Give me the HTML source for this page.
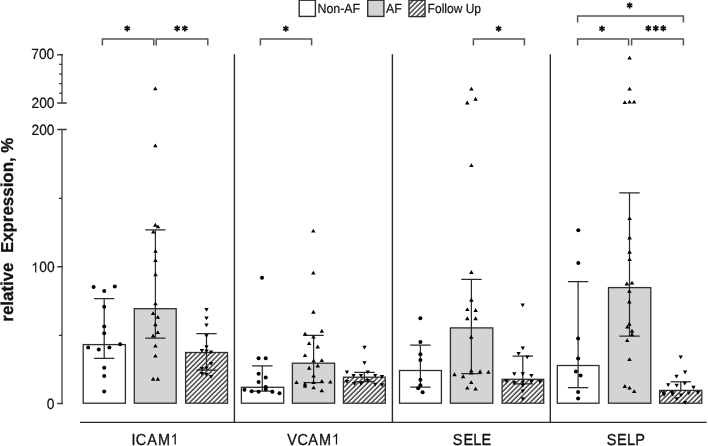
<!DOCTYPE html>
<html><head><meta charset="utf-8"><style>
html,body{margin:0;padding:0;background:#fff;}
body{width:708px;height:446px;overflow:hidden;}
svg{display:block;filter:grayscale(1);}
text{font-family:"Liberation Sans",sans-serif;text-rendering:geometricPrecision;}
</style></head><body>
<svg width="708" height="446" viewBox="0 0 708 446">
<defs>
<pattern id="hatch" patternUnits="userSpaceOnUse" width="3.39" height="3.39" patternTransform="rotate(45)"><rect width="3.39" height="3.39" fill="#fff"/><rect x="1.26" y="0" width="1.15" height="3.39" fill="#111"/></pattern>
<pattern id="hatchL" patternUnits="userSpaceOnUse" width="3.39" height="3.39" patternTransform="rotate(45)"><rect width="3.39" height="3.39" fill="#fff"/><rect x="0.41" y="0" width="1.15" height="3.39" fill="#111"/></pattern>
<symbol id="up" overflow="visible"><path d="M0,-2.45 L2.25,1.4 L-2.25,1.4 Z"/></symbol>
<symbol id="dn" overflow="visible"><path d="M0,2.35 L2.15,-1.4 L-2.15,-1.4 Z"/></symbol>
</defs>
<rect width="708" height="446" fill="#fff"/>
<g stroke="#2e2e2e" stroke-width="1.4">
<rect x="299.2" y="0.2" width="16.2" height="16.2" fill="#fff"/>
<rect x="367.7" y="0.2" width="16.2" height="16.2" fill="#d4d4d4"/>
<rect x="409.0" y="0.2" width="16.0" height="16.4" fill="url(#hatchL)"/>
</g>
<g font-size="12.4" fill="#111" stroke="#111" stroke-width="0.2">
<text transform="translate(317.5,13.2) scale(1,1.07)">Non-AF</text>
<text transform="translate(385.9,13.2) scale(1,1.07)">AF</text>
<text transform="translate(427.6,13.2) scale(0.97,1.07)">Follow Up</text>
</g>
<g stroke="#838383" stroke-width="2" fill="none">
<path d="M62,129.5 V403.6"/>
<path d="M62,54.7 V102.9"/>
</g>
<g stroke="#3a3a3a" stroke-width="1.5" fill="none">
<path d="M57.2,129.5 H66.8 M57.2,102.9 H66.8"/>
<path d="M57.2,403.6 H63 M57.2,266.7 H63 M57.2,54.7 H63"/>
</g>
<g stroke="#2a2a2a" stroke-width="1.3" fill="none">
<path d="M59.3,93.26 H62"/>
<path d="M59.3,83.62 H62"/>
<path d="M59.3,73.98 H62"/>
<path d="M59.3,64.34 H62"/>
<path d="M59,198.45 H62 M59,335.45 H62"/>
</g>
<g font-size="13.8" fill="#111" text-anchor="end" stroke="#111" stroke-width="0.2">
<text transform="translate(54.3,59) scale(1,1.08)">700</text>
<text transform="translate(54.5,107.9) scale(1,1.08)">200</text>
<text transform="translate(54.5,134.9) scale(1,1.08)">200</text>
<text transform="translate(0,272.4) scale(1,1.08)" x="39.21 47.11" y="0" text-anchor="start">00</text>
<path transform="translate(31.17,272.4) scale(0.006738,-0.007277)" d="M763,0 L583,0 L583,1100 Q518,1040 412,980 Q306,920 222,890 L222,1060 Q373,1130 486,1228 Q599,1326 646,1409 L763,1409 Z"/>
<text transform="translate(54.4,409.2) scale(1,1.08)">0</text>
</g>
<text transform="translate(12.55,321.65) rotate(-90) scale(1,1.02)" font-size="16.9" font-weight="bold" fill="#111" stroke="#111" stroke-width="0.3">relative&#160; Expression, %</text>
<rect x="83.2" y="344.6" width="42.2" height="58.6" fill="#fff" stroke="#2e2e2e" stroke-width="1.3"/>
<rect x="134.3" y="308.7" width="41.9" height="94.5" fill="#d4d4d4" stroke="#2e2e2e" stroke-width="1.3"/>
<rect x="185.6" y="352.5" width="41.9" height="50.7" fill="url(#hatch)" stroke="#2e2e2e" stroke-width="1.3"/>
<rect x="241.4" y="387.3" width="42.3" height="15.9" fill="#fff" stroke="#2e2e2e" stroke-width="1.3"/>
<rect x="292.4" y="363.2" width="42.2" height="40" fill="#d4d4d4" stroke="#2e2e2e" stroke-width="1.3"/>
<rect x="343.4" y="377.2" width="41.9" height="26" fill="url(#hatch)" stroke="#2e2e2e" stroke-width="1.3"/>
<rect x="399.5" y="370.5" width="41.9" height="32.7" fill="#fff" stroke="#2e2e2e" stroke-width="1.3"/>
<rect x="450.4" y="327.9" width="42.4" height="75.3" fill="#d4d4d4" stroke="#2e2e2e" stroke-width="1.3"/>
<rect x="502.1" y="379.3" width="41.6" height="23.9" fill="url(#hatch)" stroke="#2e2e2e" stroke-width="1.3"/>
<rect x="557.3" y="365.5" width="41.7" height="37.7" fill="#fff" stroke="#2e2e2e" stroke-width="1.3"/>
<rect x="608.5" y="287.6" width="42.3" height="115.6" fill="#d4d4d4" stroke="#2e2e2e" stroke-width="1.3"/>
<rect x="659.6" y="390.4" width="42.2" height="12.8" fill="url(#hatch)" stroke="#2e2e2e" stroke-width="1.3"/>
<g stroke="#2a2a2a" stroke-width="1.25" fill="none">
<path d="M104.2,298.7 V358.4"/>
<path d="M94,298.7 H114.4 M94,358.4 H114.4"/>
<path d="M155.4,229.9 V338"/>
<path d="M145.2,229.9 H165.6 M145.2,338 H165.6"/>
<path d="M206.5,333.6 V370.1"/>
<path d="M196.3,333.6 H216.7 M196.3,370.1 H216.7"/>
<path d="M262.3,365.9 V391"/>
<path d="M252.1,365.9 H272.5 M252.1,391 H272.5"/>
<path d="M313.6,335.4 V382.5"/>
<path d="M303.4,335.4 H323.8 M303.4,382.5 H323.8"/>
<path d="M364.4,372.3 V381.5"/>
<path d="M354.2,372.3 H374.6 M354.2,381.5 H374.6"/>
<path d="M420.4,345.2 V387.2"/>
<path d="M410.2,345.2 H430.6 M410.2,387.2 H430.6"/>
<path d="M471.4,279.3 V373.6"/>
<path d="M461.2,279.3 H481.6 M461.2,373.6 H481.6"/>
<path d="M522.8,356 V383.8"/>
<path d="M512.6,356 H533 M512.6,383.8 H533"/>
<path d="M578.1,281.7 V387.7"/>
<path d="M567.9,281.7 H588.3 M567.9,387.7 H588.3"/>
<path d="M629.5,192.9 V336"/>
<path d="M619.3,192.9 H639.7 M619.3,336 H639.7"/>
<path d="M680.8,381.8 V390.4"/>
<path d="M670.6,381.8 H691"/>
</g>
<g fill="#000">
<circle cx="93.6" cy="286.9" r="2"/>
<circle cx="104.2" cy="290.9" r="2"/>
<circle cx="114.8" cy="286.6" r="2"/>
<circle cx="104.2" cy="306.7" r="2"/>
<circle cx="104.2" cy="326.4" r="2"/>
<circle cx="104.2" cy="333.2" r="2"/>
<circle cx="88.1" cy="347.6" r="2"/>
<circle cx="98.8" cy="349.4" r="2"/>
<circle cx="109.4" cy="347.6" r="2"/>
<circle cx="120.1" cy="344.3" r="2"/>
<circle cx="104.2" cy="367.7" r="2"/>
<circle cx="104.2" cy="375.9" r="2"/>
<circle cx="104.2" cy="391.5" r="2"/>
<circle cx="262" cy="277.8" r="2"/>
<circle cx="258.6" cy="358.3" r="2"/>
<circle cx="265.7" cy="358.3" r="2"/>
<circle cx="258.6" cy="373.7" r="2"/>
<circle cx="265.7" cy="377.6" r="2"/>
<circle cx="258.6" cy="381.9" r="2"/>
<circle cx="265.7" cy="387" r="2"/>
<circle cx="265.7" cy="389.4" r="2"/>
<circle cx="244.5" cy="389.7" r="2"/>
<circle cx="251.6" cy="391.3" r="2"/>
<circle cx="258.6" cy="391.7" r="2"/>
<circle cx="272.4" cy="391.7" r="2"/>
<circle cx="279.5" cy="393.3" r="2"/>
<circle cx="420.4" cy="318.3" r="2"/>
<circle cx="420.4" cy="342" r="2"/>
<circle cx="420.4" cy="354.3" r="2"/>
<circle cx="420.4" cy="360.1" r="2"/>
<circle cx="420.4" cy="379.7" r="2"/>
<circle cx="420.4" cy="385.2" r="2"/>
<circle cx="418.2" cy="388.3" r="2"/>
<circle cx="422.6" cy="392.2" r="2"/>
<circle cx="578.3" cy="230.2" r="2"/>
<circle cx="578.3" cy="263.1" r="2"/>
<circle cx="578.1" cy="338.4" r="2"/>
<circle cx="578.1" cy="358.5" r="2"/>
<circle cx="575.9" cy="371.5" r="2"/>
<circle cx="580.6" cy="375.5" r="2"/>
<circle cx="578.1" cy="392.1" r="2"/>
<circle cx="578.1" cy="398.6" r="2"/>
<use href="#up" x="155.3" y="88.9"/>
<use href="#up" x="155.3" y="145.9"/>
<use href="#up" x="155.3" y="225.3"/>
<use href="#up" x="158" y="226.9"/>
<use href="#up" x="153.3" y="232.1"/>
<use href="#up" x="155.5" y="251.3"/>
<use href="#up" x="155.5" y="260.7"/>
<use href="#up" x="155.5" y="274.8"/>
<use href="#up" x="155.5" y="303.9"/>
<use href="#up" x="153.1" y="313.6"/>
<use href="#up" x="157.8" y="317.4"/>
<use href="#up" x="155.4" y="324.8"/>
<use href="#up" x="157.8" y="332.6"/>
<use href="#up" x="153.1" y="336"/>
<use href="#up" x="155.4" y="346.1"/>
<use href="#up" x="155.4" y="356.2"/>
<use href="#up" x="153.1" y="379.3"/>
<use href="#up" x="157.8" y="379.3"/>
<use href="#up" x="313.3" y="231.2"/>
<use href="#up" x="313.3" y="273.2"/>
<use href="#up" x="313.4" y="312.3"/>
<use href="#up" x="305.1" y="334.2"/>
<use href="#up" x="321.8" y="331.3"/>
<use href="#up" x="313.4" y="337.1"/>
<use href="#up" x="309.1" y="343.7"/>
<use href="#up" x="317.7" y="347"/>
<use href="#up" x="305" y="355.7"/>
<use href="#up" x="313.6" y="361.1"/>
<use href="#up" x="321.8" y="360.6"/>
<use href="#up" x="309.2" y="368.3"/>
<use href="#up" x="317.7" y="366"/>
<use href="#up" x="313.6" y="376.1"/>
<use href="#up" x="296.5" y="382.7"/>
<use href="#up" x="305" y="384.3"/>
<use href="#up" x="305" y="386.3"/>
<use href="#up" x="313.6" y="382.7"/>
<use href="#up" x="321.8" y="381.5"/>
<use href="#up" x="330.3" y="382.2"/>
<use href="#up" x="313.6" y="387.9"/>
<use href="#up" x="321.8" y="390.9"/>
<use href="#up" x="471.4" y="89.2"/>
<use href="#up" x="475.6" y="99.3"/>
<use href="#up" x="467.2" y="103"/>
<use href="#up" x="471.4" y="165.6"/>
<use href="#up" x="471.4" y="272.5"/>
<use href="#up" x="471.4" y="300.3"/>
<use href="#up" x="467.3" y="309.7"/>
<use href="#up" x="475.6" y="310.5"/>
<use href="#up" x="467.3" y="318.8"/>
<use href="#up" x="475.6" y="318.8"/>
<use href="#up" x="471.2" y="337.3"/>
<use href="#up" x="471.2" y="370.9"/>
<use href="#up" x="480.1" y="371.8"/>
<use href="#up" x="471.2" y="373"/>
<use href="#up" x="454.5" y="374.8"/>
<use href="#up" x="488.4" y="372.4"/>
<use href="#up" x="463.1" y="376.8"/>
<use href="#up" x="471.2" y="382.7"/>
<use href="#up" x="467.3" y="388.2"/>
<use href="#up" x="475.6" y="389.2"/>
<use href="#up" x="629.6" y="58.2"/>
<use href="#up" x="629.6" y="89.2"/>
<use href="#up" x="624.8" y="102.7"/>
<use href="#up" x="629.6" y="102.2"/>
<use href="#up" x="634.1" y="102.2"/>
<use href="#up" x="629.6" y="218.7"/>
<use href="#up" x="629.6" y="238"/>
<use href="#up" x="629.6" y="252.3"/>
<use href="#up" x="629.6" y="259.6"/>
<use href="#up" x="626.9" y="284"/>
<use href="#up" x="632" y="283.1"/>
<use href="#up" x="629.3" y="291.4"/>
<use href="#up" x="629.3" y="302"/>
<use href="#up" x="629.3" y="324.3"/>
<use href="#up" x="627.3" y="327.1"/>
<use href="#up" x="632" y="331.3"/>
<use href="#up" x="632" y="334.8"/>
<use href="#up" x="627.2" y="340.7"/>
<use href="#up" x="629.5" y="359.6"/>
<use href="#up" x="624.8" y="386.5"/>
<use href="#up" x="629.5" y="388.2"/>
<use href="#up" x="634.2" y="391.7"/>
<use href="#dn" x="206.5" y="309.5"/>
<use href="#dn" x="206.5" y="317.8"/>
<use href="#dn" x="206.5" y="324.8"/>
<use href="#dn" x="206.5" y="335.7"/>
<use href="#dn" x="206.5" y="346.7"/>
<use href="#dn" x="201.9" y="350.3"/>
<use href="#dn" x="206.5" y="351"/>
<use href="#dn" x="211.1" y="351.8"/>
<use href="#dn" x="211.1" y="363.5"/>
<use href="#dn" x="201.9" y="368.3"/>
<use href="#dn" x="201.9" y="373.4"/>
<use href="#dn" x="206.3" y="374.2"/>
<use href="#dn" x="211.1" y="376.4"/>
<use href="#dn" x="206.5" y="368"/>
<use href="#dn" x="364.5" y="347.2"/>
<use href="#dn" x="364.5" y="362.6"/>
<use href="#dn" x="346.9" y="371.8"/>
<use href="#dn" x="367.8" y="372"/>
<use href="#dn" x="353.6" y="375.3"/>
<use href="#dn" x="361" y="375.3"/>
<use href="#dn" x="375.2" y="375.3"/>
<use href="#dn" x="382" y="376.3"/>
<use href="#dn" x="346.9" y="381.5"/>
<use href="#dn" x="354.3" y="383.4"/>
<use href="#dn" x="361" y="383.4"/>
<use href="#dn" x="367.8" y="380.3"/>
<use href="#dn" x="375.2" y="384.2"/>
<use href="#dn" x="382" y="384.6"/>
<use href="#dn" x="522.7" y="304.8"/>
<use href="#dn" x="522.8" y="347.8"/>
<use href="#dn" x="518.6" y="353.5"/>
<use href="#dn" x="527.2" y="357"/>
<use href="#dn" x="514.3" y="373.7"/>
<use href="#dn" x="522.8" y="373.7"/>
<use href="#dn" x="531.4" y="375.4"/>
<use href="#dn" x="506.3" y="381"/>
<use href="#dn" x="514.3" y="382.4"/>
<use href="#dn" x="522.8" y="382"/>
<use href="#dn" x="531.4" y="381.4"/>
<use href="#dn" x="539.9" y="381.4"/>
<use href="#dn" x="522.8" y="385.2"/>
<use href="#dn" x="522.8" y="390.9"/>
<use href="#dn" x="522.8" y="398.6"/>
<use href="#dn" x="680.7" y="357"/>
<use href="#dn" x="685.1" y="372"/>
<use href="#dn" x="676.5" y="376.1"/>
<use href="#dn" x="668.2" y="384.6"/>
<use href="#dn" x="676.7" y="385.2"/>
<use href="#dn" x="684.8" y="383.2"/>
<use href="#dn" x="693.5" y="387.2"/>
<use href="#dn" x="663.3" y="392.6"/>
<use href="#dn" x="664" y="394.5"/>
<use href="#dn" x="672" y="392.5"/>
<use href="#dn" x="672.8" y="394.2"/>
<use href="#dn" x="676.8" y="398.6"/>
<use href="#dn" x="680.9" y="395"/>
<use href="#dn" x="688.8" y="393"/>
<use href="#dn" x="698" y="392.4"/>
<use href="#dn" x="685.2" y="402.3"/>
</g>
<g stroke="#2a2a2a" stroke-width="1.4" fill="none">
<path d="M234.4,54.3 V422.4"/>
<path d="M392.4,54.3 V422.4"/>
<path d="M550.3,54.3 V422.4"/>
<path d="M80,422.4 H706.6"/>
</g>
<g font-size="14.5" fill="#111" stroke="#111" stroke-width="0.3">
<text transform="translate(0,444.5) scale(1,1.1)" x="131.43 135.82 147.16 157.96" y="0" text-anchor="start">ICAM</text>
<path transform="translate(170.43,444.5) scale(0.007080,-0.007788)" d="M763,0 L583,0 L583,1100 Q518,1040 412,980 Q306,920 222,890 L222,1060 Q373,1130 486,1228 Q599,1326 646,1409 L763,1409 Z"/>
<text transform="translate(0,444.5) scale(1,1.1)" x="287.21 297.57 308.16 319.11" y="0" text-anchor="start">VCAM</text>
<path transform="translate(331.74,444.5) scale(0.007080,-0.007788)" d="M763,0 L583,0 L583,1100 Q518,1040 412,980 Q306,920 222,890 L222,1060 Q373,1130 486,1228 Q599,1326 646,1409 L763,1409 Z"/>
<text transform="translate(0,444.5) scale(1,1.1)" x="452.87 463.43 473.23 481.53" y="0" text-anchor="start">SELE</text>
<text transform="translate(0,444.5) scale(1,1.1)" x="606.77 617.08 627.03 635.18" y="0" text-anchor="start">SELP</text>
</g>
<g stroke="#555" stroke-width="1.5" fill="none">
<path d="M102.4,45.6 V39 H153.8 V45.6"/>
<path d="M156.2,45.6 V39 H207.8 V45.6"/>
<path d="M260.4,45.6 V39 H311.6 V45.6"/>
<path d="M473.4,45.6 V39 H524.4 V45.6"/>
<path d="M577.6,45.6 V39 H628.6 V45.6"/>
<path d="M631.6,45.6 V39 H683.4 V45.6"/>
<path d="M577.6,22.4 V15.9 H683.4 V22.4"/>
</g>
<path d="M127.2,26.05 L127.2,30.75 M125.16,27.22 L129.24,29.57 M129.24,27.22 L125.16,29.57" stroke="#111" stroke-width="1.75" stroke-linecap="round" fill="none"/>
<path d="M177.15,26.05 L177.15,30.75 M175.11,27.22 L179.19,29.57 M179.19,27.22 L175.11,29.57" stroke="#111" stroke-width="1.75" stroke-linecap="round" fill="none"/>
<path d="M184.85,26.05 L184.85,30.75 M182.81,27.22 L186.89,29.57 M186.89,27.22 L182.81,29.57" stroke="#111" stroke-width="1.75" stroke-linecap="round" fill="none"/>
<path d="M285.8,26.25 L285.8,30.95 M283.76,27.43 L287.84,29.78 M287.84,27.43 L283.76,29.78" stroke="#111" stroke-width="1.75" stroke-linecap="round" fill="none"/>
<path d="M498.6,26.25 L498.6,30.95 M496.56,27.43 L500.64,29.78 M500.64,27.43 L496.56,29.78" stroke="#111" stroke-width="1.75" stroke-linecap="round" fill="none"/>
<path d="M602,26.25 L602,30.95 M599.96,27.43 L604.04,29.78 M604.04,27.43 L599.96,29.78" stroke="#111" stroke-width="1.75" stroke-linecap="round" fill="none"/>
<path d="M648.35,25.95 L648.35,30.65 M646.31,27.12 L650.39,29.48 M650.39,27.12 L646.31,29.48" stroke="#111" stroke-width="1.75" stroke-linecap="round" fill="none"/>
<path d="M655.8,25.95 L655.8,30.65 M653.76,27.12 L657.84,29.48 M657.84,27.12 L653.76,29.48" stroke="#111" stroke-width="1.75" stroke-linecap="round" fill="none"/>
<path d="M663.25,25.95 L663.25,30.65 M661.21,27.12 L665.29,29.48 M665.29,27.12 L661.21,29.48" stroke="#111" stroke-width="1.75" stroke-linecap="round" fill="none"/>
<path d="M629.6,3.05 L629.6,7.75 M627.56,4.23 L631.64,6.58 M631.64,4.23 L627.56,6.58" stroke="#111" stroke-width="1.75" stroke-linecap="round" fill="none"/>
</svg>
</body></html>
